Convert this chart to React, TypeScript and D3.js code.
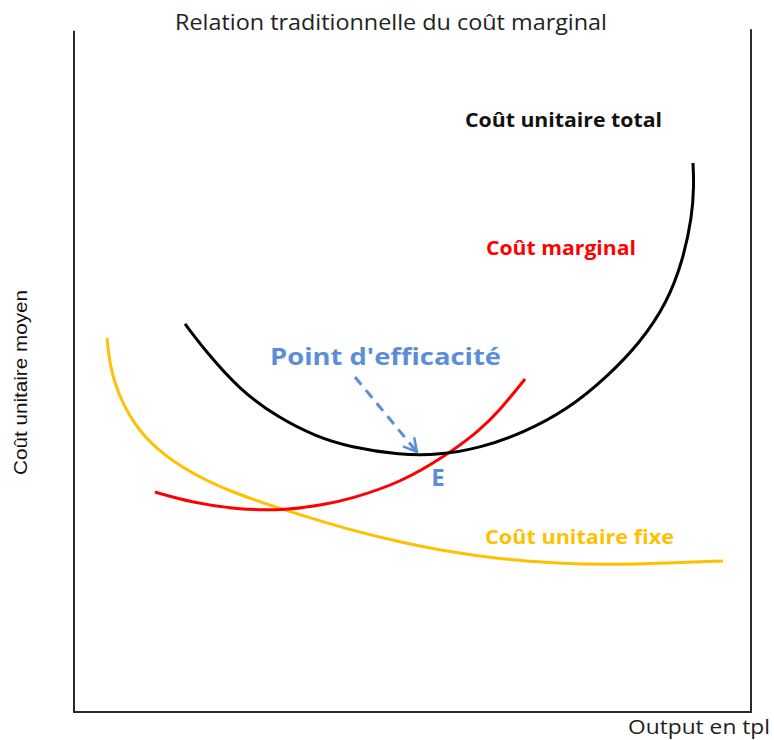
import React from "react";
import * as d3 from "d3";

const W = 774;
const H = 740;

// Data in arbitrary units (0-100 on both axes)
const totalX = [16.4, 19.65, 24.52, 29.99, 35.89, 40.77, 48.15, 54.06, 60.0, 66.32, 72.82, 78.73, 83.6, 87.59, 89.96, 91.29, 91.58, 91.43];
const totalY = [56.73, 52.49, 47.08, 43.13, 40.2, 38.74, 37.57, 37.57, 38.6, 40.79, 44.15, 48.98, 53.95, 59.8, 66.08, 72.37, 77.05, 80.26];

const marginalX = [11.96, 17.13, 24.52, 31.46, 36.78, 40.77, 48.15, 55.1, 60.0, 62.92, 66.62];
const marginalY = [32.16, 30.7, 29.53, 29.53, 30.26, 31.14, 33.48, 37.57, 41.23, 44.15, 48.68];

const fixedX = [4.87, 5.3, 6.4, 8.71, 12.26, 17.13, 23.04, 31.46, 40.77, 48.15, 55.54, 62.92, 70.31, 80.21, 87.59, 95.86];
const fixedY = [54.68, 50.6, 46.8, 42.2, 38.3, 35.0, 32.2, 29.4, 26.6, 24.85, 23.39, 22.37, 21.78, 21.49, 21.78, 22.08];

const arrowFrom = [41.51, 48.98];
const arrowTo = [50.66, 38.01];

const title = "Relation traditionnelle du coût marginal";
const yTitle = "Coût unitaire moyen";
const xTitle = "Output en tpl";

const FONT = "'Open Sans', 'Noto Sans', sans-serif";
const BLUE = "#5b8ed8";

export default function App() {
  const x = d3.scaleLinear().domain([0, 100]).range([74, 751]);
  const y = d3.scaleLinear().domain([0, 100]).range([712, 28]);
  const line = d3
    .line<[number, number]>()
    .x((d) => x(d[0]))
    .y((d) => y(d[1]))
    .curve(d3.curveBasis);

  const zip = (a: number[], b: number[]) => a.map((v, i) => [v, b[i]] as [number, number]);

  const ax1 = x(arrowFrom[0]);
  const ay1 = y(arrowFrom[1]);
  const ax2 = x(arrowTo[0]);
  const ay2 = y(arrowTo[1]);
  const ang = Math.atan2(ay2 - ay1, ax2 - ax1);
  const hl = 15;
  const spread = 0.5;
  const h1 = [ax2 - hl * Math.cos(ang - spread), ay2 - hl * Math.sin(ang - spread)];
  const h2 = [ax2 - hl * Math.cos(ang + spread), ay2 - hl * Math.sin(ang + spread)];

  return (
    <svg width={W} height={H} style={{ position: "absolute", left: 0, top: 0, background: "#fff" }}>
      <rect width={W} height={H} fill="#fff" />
      {/* frame */}
      <path
        d={`M${x(0)},${y(99.6)} L${x(0)},${y(0)} L${x(100)},${y(0)} L${x(100)},${y(99.8)}`}
        fill="none"
        stroke="#2a2a2a"
        strokeWidth={2}
      />
      <text x={175} y={30} fontFamily={FONT} fontSize={21} textLength={432} lengthAdjust="spacingAndGlyphs" fill="#222">
        {title}
      </text>
      <text
        transform={`translate(27,475) rotate(-90)`}
        fontFamily="'Liberation Sans', Arial, sans-serif"
        fontSize={18.5}
        textLength={185}
        lengthAdjust="spacingAndGlyphs"
        fill="#111"
      >
        {yTitle}
      </text>
      <text x={628} y={734} fontFamily={FONT} fontSize={20} textLength={142} lengthAdjust="spacingAndGlyphs" fill="#222">
        {xTitle}
      </text>

      <path d={line(zip(fixedX, fixedY)) || ""} fill="none" stroke="#ffc000" strokeWidth={3} />
      <path d={line(zip(marginalX, marginalY)) || ""} fill="none" stroke="#ff0000" strokeWidth={3} />
      <path d={line(zip(totalX, totalY)) || ""} fill="none" stroke="#000" strokeWidth={3} />

      {/* arrow */}
      <line x1={ax1} y1={ay1} x2={ax2} y2={ay2} stroke={BLUE} strokeWidth={3} strokeDasharray="10,7" />
      <polyline
        points={`${h1[0]},${h1[1]} ${ax2},${ay2} ${h2[0]},${h2[1]}`}
        fill="none"
        stroke={BLUE}
        strokeWidth={2.5}
      />

      <text x={270} y={365} fontFamily={FONT} fontWeight="bold" fontSize={24} textLength={231} lengthAdjust="spacingAndGlyphs" fill={BLUE}>
        Point d'efficacité
      </text>
      <text x={438} y={486} textAnchor="middle" fontFamily={FONT} fontWeight="bold" fontSize={24} fill={BLUE}>
        E
      </text>
      <text x={465} y={127} fontFamily={FONT} fontWeight="bold" fontSize={19.5} textLength={197} lengthAdjust="spacingAndGlyphs" fill="#111">
        Coût unitaire total
      </text>
      <text x={486} y={255} fontFamily={FONT} fontWeight="bold" fontSize={19.5} textLength={150} lengthAdjust="spacingAndGlyphs" fill="#ff0000">
        Coût marginal
      </text>
      <text x={485} y={544} fontFamily={FONT} fontWeight="bold" fontSize={19.5} textLength={189} lengthAdjust="spacingAndGlyphs" fill="#ffc000">
        Coût unitaire fixe
      </text>
    </svg>
  );
}
